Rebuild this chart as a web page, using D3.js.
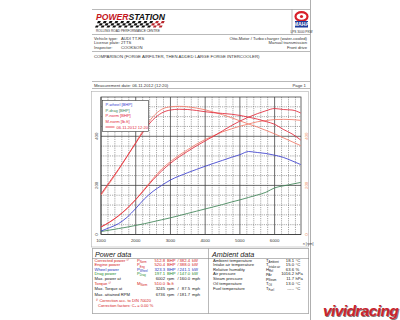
<!DOCTYPE html>
<html>
<head>
<meta charset="utf-8">
<script src="https://cdn.jsdelivr.net/npm/d3@7"></script>
<style>
  html, body { margin: 0; padding: 0; background: #fff; }
  svg { display: block; font-family: "Liberation Sans", Arial, sans-serif; }
</style>
</head>
<body>
<div id="chart"></div>
<script>
// dyno sheet - power / torque comparison

// engine speed samples [rpm]
const rpm = [1000, 1250, 1500, 1750, 2000, 2250, 2500, 2750, 3000, 3250, 3500, 3750,
             4000, 4250, 4500, 4750, 5000, 5250, 5500, 5750, 6000, 6250, 6500, 6750];

// run 06.11.2012 12:20 (red)
const pNormA = [31, 51, 76, 106, 142, 182, 223, 259, 290, 316, 339, 361,
                381, 401, 422, 443, 462, 478, 492, 504, 513, 509, 507, 495];
const mNormA = [165, 215, 265, 318, 372, 425, 468, 495, 507, 510, 509, 505,
                500, 496, 493, 490, 485, 478, 470, 460, 449, 428, 410, 385];
// comparison run (salmon)
const pNormB = [30, 50, 75, 106, 143, 185, 228, 267, 297, 323, 346, 368,
                387, 403, 418, 430, 441, 450, 459, 464, 468, 469, 468, 465];
const mNormB = [160, 210, 262, 318, 375, 432, 480, 510, 520, 522, 520, 515,
                508, 498, 488, 476, 463, 450, 438, 424, 410, 394, 378, 362];
// wheel and drag power of the 12:20 run
const pWheel = [14, 28, 44, 70, 106, 145, 176, 200, 222, 238, 252, 265,
                278, 290, 302, 314, 325, 338, 334, 330, 323, 314, 300, 285];
const pDrag  = [12, 18, 24, 30, 37, 44, 52, 60, 68, 77, 86, 95,
                104, 113, 122, 132, 141, 151, 161, 172, 190, 198, 205, 212];

// axis ticks
const rpmTicks = [1000, 2000, 3000, 4000, 5000, 6000];
const valueTicks = [0, 200, 400];

// legend entries
const legendNames = ['P-wheel [BHP]', 'P-drag [BHP]', 'P-norm [BHP]', 'M-norm [lb.ft]'];
const legendDate = '06.11.2012 12:20';

// header texts
const infoLabels = ['Vehicle type:', 'License plate:', 'Inspector:'];
const infoValues = ['AUDI TT-RS', '2TTS', 'COOKSON'];
const infoRight = ['Otto-Motor / Turbo charger (water-cooled)', 'Manual transmission', 'Front drive'];

// power data table
const powerLabels = ['Corrected power \u00b9\u207e', 'Engine power', 'Wheel power', 'Drag power',
                     'Max. power at', 'Torque \u00b9\u207e', 'Max. Torque at', 'Max. attained RPM'];
const powerSym = [['P', 'Norm'], ['P', 'Eng'], ['P', 'Wheel'], ['P', 'Drag'], null, ['M', 'Norm'], null, null];
const powerVal1 = ['512.8', '520.4', '323.3', '197.1', '6002', '510.0', '3245', '6736'];
const powerUnit1 = ['BHP', 'BHP', 'BHP', 'BHP', 'rpm', 'lb.ft', 'rpm', 'rpm'];
const powerVal2 = ['382.4', '388.0', '241.1', '147.0', '160.0', '', '87.5', '181.7'];
const powerUnit2 = ['kW', 'kW', 'kW', 'kW', 'mph', '', 'mph', 'mph'];
const powerColor = ['#d42020', '#d42020', '#2233bb', '#218a2a', '#222', '#d42020', '#222', '#222'];
const powerRowY = [262, 266.4, 270.8, 275.2, 279.6, 285.2, 290.4, 296];

// ambient data table
const ambLabels = ['Ambient temperature', 'Intake air temperature', 'Relative humidity',
                   'Air pressure', 'Steam pressure', 'Oil temperature', 'Fuel temperature'];
const ambSym = [['T', 'Ambient'], ['T', 'Intake air'], ['H', 'Rel'], ['p', 'Air'], ['p', 'Steam'], ['T', 'Oil'], ['T', 'Fuel']];
const ambVal = ['18.1', '15.0', '63.6', '1016.2', '11.7', '13.0', '---.-'];
const ambUnit = ['\u00b0C', '\u00b0C', '%', 'hPa', 'hPa', '\u00b0C', '\u00b0C'];
const ambRowY = [262, 266.4, 270.8, 275.2, 279.6, 285.2, 289.6];

const width = 400, height = 320;
const red = '#e2283a', salmon = '#f27a68', blue = '#3b3fcf', green = '#3f8456', orange = '#ee8a5a';

const svg = d3.select('#chart').append('svg')
    .attr('width', width)
    .attr('height', height);

svg.append('rect').attr('width', width).attr('height', height).attr('fill', '#fff');

// page edge
svg.append('line').attr('x1', 310.5).attr('x2', 310.5).attr('y1', 0).attr('y2', height)
   .attr('stroke', '#9a9a9a').attr('stroke-width', 0.8);

// ---------- header ----------
const hdr = svg.append('g').attr('stroke', '#8a8a8a').attr('stroke-width', 0.6);
hdr.append('line').attr('x1', 92).attr('x2', 310).attr('y1', 9.5).attr('y2', 9.5);
hdr.append('line').attr('x1', 92).attr('x2', 310).attr('y1', 34.5).attr('y2', 34.5);
hdr.append('line').attr('x1', 292).attr('x2', 292).attr('y1', 9.5).attr('y2', 34.5);
hdr.append('line').attr('x1', 92).attr('x2', 310).attr('y1', 51.5).attr('y2', 51.5);
hdr.append('line').attr('x1', 92).attr('x2', 310).attr('y1', 81.5).attr('y2', 81.5);
hdr.append('line').attr('x1', 92).attr('x2', 310).attr('y1', 88.5).attr('y2', 88.5);

// POWERSTATION logo
const logo = svg.append('text')
    .attr('x', 96).attr('y', 19.5)
    .attr('font-size', 8.6).attr('font-weight', 'bold').attr('font-style', 'italic');
logo.append('tspan').attr('fill', '#c4161c').text('POWER');
logo.append('tspan').attr('fill', '#111').text('STATION');

const flag = svg.append('g').attr('transform', 'translate(98,21) skewX(-25)');
d3.range(3).forEach(r => {
  d3.range(23).forEach(c => {
    if ((r + c) % 2 === 0) {
      flag.append('rect')
        .attr('x', c * 2.9).attr('y', r * 2.2)
        .attr('width', 2.9).attr('height', 2.2)
        .attr('fill', c > 18 ? '#b8262c' : '#111');
    }
  });
});
svg.append('text').attr('x', 96).attr('y', 31.8).attr('font-size', 3.2).attr('fill', '#333')
   .text('ROLLING ROAD PERFORMANCE CENTRE');

// MAHA logo
svg.append('ellipse').attr('cx', 301.5).attr('cy', 16.5).attr('rx', 6).attr('ry', 4.3)
   .attr('fill', '#fff').attr('stroke', '#d8202a').attr('stroke-width', 2.2);
svg.append('circle').attr('cx', 301.5).attr('cy', 16.5).attr('r', 1.6).attr('fill', '#d8202a');
svg.append('rect').attr('x', 295).attr('y', 21).attr('width', 13).attr('height', 6.5).attr('fill', '#1d3c9c');
svg.append('text').attr('x', 301.5).attr('y', 26.2).attr('text-anchor', 'middle')
   .attr('font-size', 5.2).attr('font-weight', 'bold').attr('fill', '#fff').text('MAHA');
svg.append('text').attr('x', 301.5).attr('y', 32.5).attr('text-anchor', 'middle')
   .attr('font-size', 3.2).attr('fill', '#333').text('LPS 3000 PKW');

// vehicle info
infoLabels.forEach((t, i) => {
  const yy = 39.8 + i * 4.4;
  svg.append('text').attr('x', 94).attr('y', yy).attr('font-size', 4.2).attr('fill', '#333').text(t);
  svg.append('text').attr('x', 121).attr('y', yy).attr('font-size', 4.2).attr('fill', '#333').text(infoValues[i]);
  svg.append('text').attr('x', 307).attr('y', yy).attr('text-anchor', 'end')
     .attr('font-size', 4.2).attr('fill', '#333').text(infoRight[i]);
});

svg.append('text').attr('x', 94).attr('y', 58).attr('font-size', 4.3).attr('fill', '#333')
   .text('COMPARISON (FORGE AIRFILTER, THEN ADDED LARGE FORGE INTERCOOLER)');
svg.append('text').attr('x', 94).attr('y', 86.8).attr('font-size', 4.3).attr('fill', '#333')
   .text('Measurement date: 06.11.2012 (12:20)');
svg.append('text').attr('x', 306).attr('y', 86.8).attr('text-anchor', 'end')
   .attr('font-size', 4.3).attr('fill', '#333').text('Page 1');

// ---------- chart ----------
const x = d3.scaleLinear().domain([1000, 6760]).range([101, 301]);
const y = d3.scaleLinear().domain([0, 560]).range([234.5, 97]);

// outer chart frame
svg.append('rect').attr('x', 91.5).attr('y', 91.5).attr('width', 217).attr('height', 155.5)
   .attr('fill', 'none').attr('stroke', '#b0b0b0').attr('stroke-width', 0.6);

const grid = svg.append('g');
// minor grid
grid.selectAll('.vminor')
  .data(d3.range(1200, 6760, 200).filter(v => v % 1000 !== 0))
  .join('line')
    .attr('x1', d => x(d)).attr('x2', d => x(d))
    .attr('y1', y.range()[1]).attr('y2', y.range()[0])
    .attr('stroke', '#505050').attr('stroke-width', 0.5).attr('stroke-dasharray', '1.2,1');
grid.selectAll('.hminor')
  .data(d3.range(40, 560, 40).filter(v => v % 200 !== 0))
  .join('line')
    .attr('x1', x.range()[0]).attr('x2', x.range()[1])
    .attr('y1', d => y(d)).attr('y2', d => y(d))
    .attr('stroke', '#505050').attr('stroke-width', 0.5).attr('stroke-dasharray', '1.2,1');
// major grid
grid.selectAll('.vmajor')
  .data(rpmTicks)
  .join('line')
    .attr('x1', d => x(d)).attr('x2', d => x(d))
    .attr('y1', y.range()[1]).attr('y2', y.range()[0])
    .attr('stroke', '#3a3a3a').attr('stroke-width', 0.75);
grid.selectAll('.hmajor')
  .data(valueTicks)
  .join('line')
    .attr('x1', x.range()[0]).attr('x2', x.range()[1])
    .attr('y1', d => y(d)).attr('y2', d => y(d))
    .attr('stroke', '#3a3a3a').attr('stroke-width', 0.75);
svg.append('rect')
   .attr('x', x.range()[0]).attr('y', y.range()[1])
   .attr('width', x.range()[1] - x.range()[0]).attr('height', y.range()[0] - y.range()[1])
   .attr('fill', 'none').attr('stroke', '#3a3a3a').attr('stroke-width', 0.75);

// x tick labels
svg.selectAll('.xlab')
  .data(rpmTicks)
  .join('text')
    .attr('x', d => x(d)).attr('y', 242)
    .attr('text-anchor', 'middle').attr('font-size', 4.3).attr('fill', '#333')
    .text(d => d);
svg.append('text').attr('x', 303).attr('y', 244.5).attr('font-size', 3.4).attr('fill', '#444').text('n [rpm]');

// left / right value labels (rotated)
svg.selectAll('.ylab')
  .data(valueTicks)
  .join('text')
    .attr('transform', d => `translate(97.5,${y(d)}) rotate(-90)`)
    .attr('text-anchor', 'middle').attr('font-size', 4.3).attr('fill', '#333')
    .text(d => d);
svg.selectAll('.ylab2')
  .data(valueTicks)
  .join('text')
    .attr('transform', d => `translate(307.5,${y(d)}) rotate(-90)`)
    .attr('text-anchor', 'middle').attr('font-size', 4.3).attr('fill', orange)
    .text(d => d);

// curves
const line = vals => d3.line()
    .curve(d3.curveMonotoneX)
    .x((d, i) => x(rpm[i]))
    .y(d => y(d))(vals);

const series = [
  { vals: pDrag,  color: green },
  { vals: pWheel, color: blue },
  { vals: mNormB, color: salmon },
  { vals: pNormB, color: salmon },
  { vals: mNormA, color: red },
  { vals: pNormA, color: red }
];
svg.append('g').selectAll('path')
  .data(series)
  .join('path')
    .attr('d', d => line(d.vals))
    .attr('fill', 'none')
    .attr('stroke', d => d.color)
    .attr('stroke-width', 0.85);

// legend
const lg = svg.append('g').attr('transform', 'translate(102.5,100.5)');
lg.append('rect').attr('width', 46).attr('height', 31)
  .attr('fill', '#fff').attr('stroke', '#333').attr('stroke-width', 0.6);
const legendColors = [blue, green, red, red];
legendNames.forEach((n, i) => {
  lg.append('text').attr('x', 3).attr('y', 5.5 + i * 5.6)
    .attr('font-size', 4.1).attr('fill', legendColors[i]).text(n);
});
lg.append('line').attr('x1', 3).attr('x2', 12).attr('y1', 26.5).attr('y2', 26.5)
  .attr('stroke', red).attr('stroke-width', 0.8);
lg.append('text').attr('x', 14).attr('y', 28).attr('font-size', 4.1).attr('fill', red).text(legendDate);

// ---------- data tables ----------
const tb = svg.append('g').attr('stroke', '#8a8a8a').attr('stroke-width', 0.6);
tb.append('line').attr('x1', 92).attr('x2', 309).attr('y1', 248.5).attr('y2', 248.5);
tb.append('line').attr('x1', 92).attr('x2', 309).attr('y1', 258.5).attr('y2', 258.5);
tb.append('line').attr('x1', 92).attr('x2', 309).attr('y1', 313.5).attr('y2', 313.5);
tb.append('line').attr('x1', 208.5).attr('x2', 208.5).attr('y1', 248.5).attr('y2', 313.5);
tb.append('line').attr('x1', 92.5).attr('x2', 92.5).attr('y1', 248.5).attr('y2', 313.5);
tb.append('line').attr('x1', 308.5).attr('x2', 308.5).attr('y1', 248.5).attr('y2', 313.5);

svg.append('text').attr('x', 95).attr('y', 256.5).attr('font-size', 7.2)
   .attr('font-style', 'italic').attr('fill', '#222').text('Power data');
svg.append('text').attr('x', 212).attr('y', 256.5).attr('font-size', 7.2)
   .attr('font-style', 'italic').attr('fill', '#222').text('Ambient data');

function symbol(g, xx, yy, sym, color) {
  const t = g.append('text').attr('x', xx).attr('y', yy).attr('font-size', 4.2).attr('fill', color);
  t.append('tspan').text(sym[0]);
  t.append('tspan').attr('dy', 1.2).attr('font-size', 2.8).text(sym[1]);
}

const fs = 4.2;
powerLabels.forEach((lab, i) => {
  const yy = powerRowY[i], c = powerColor[i];
  svg.append('text').attr('x', 94.5).attr('y', yy).attr('font-size', fs).attr('fill', c).text(lab);
  if (powerSym[i]) symbol(svg, 137, yy, powerSym[i], c);
  svg.append('text').attr('x', 165).attr('y', yy).attr('text-anchor', 'end')
     .attr('font-size', fs).attr('fill', c).text(powerVal1[i]);
  svg.append('text').attr('x', 167).attr('y', yy).attr('font-size', fs).attr('fill', c).text(powerUnit1[i]);
  if (powerVal2[i]) {
    svg.append('text').attr('x', 177.5).attr('y', yy).attr('font-size', fs).attr('fill', c).text('/');
    svg.append('text').attr('x', 190).attr('y', yy).attr('text-anchor', 'end')
       .attr('font-size', fs).attr('fill', c).text(powerVal2[i]);
    svg.append('text').attr('x', 192).attr('y', yy).attr('font-size', fs).attr('fill', c).text(powerUnit2[i]);
  }
});
svg.append('text').attr('x', 96).attr('y', 302).attr('font-size', 4).attr('fill', '#d42020')
   .text('\u00b9\u207e Correction acc. to DIN 70020');
svg.append('text').attr('x', 98).attr('y', 306.5).attr('font-size', 4).attr('fill', '#d42020')
   .text('Correction factors: C\u2092 =   0.00 %');

ambLabels.forEach((lab, i) => {
  const yy = ambRowY[i];
  svg.append('text').attr('x', 213).attr('y', yy).attr('font-size', fs).attr('fill', '#222').text(lab);
  symbol(svg, 266, yy, ambSym[i], '#222');
  svg.append('text').attr('x', 294).attr('y', yy).attr('text-anchor', 'end')
     .attr('font-size', fs).attr('fill', '#222').text(ambVal[i]);
  svg.append('text').attr('x', 295.5).attr('y', yy).attr('font-size', fs).attr('fill', '#222').text(ambUnit[i]);
});

// watermark
svg.append('text').attr('x', 323).attr('y', 316).attr('font-size', 15.5)
   .attr('font-weight', 'bold').attr('font-style', 'italic').attr('letter-spacing', -0.6)
   .attr('fill', '#3a1a1a').attr('opacity', 0.6).attr('transform', 'translate(0.8,0.8)')
   .text('vividracing');
svg.append('text').attr('x', 323).attr('y', 316).attr('font-size', 15.5)
   .attr('font-weight', 'bold').attr('font-style', 'italic').attr('letter-spacing', -0.6)
   .attr('fill', '#c8242e')
   .text('vividracing');
</script>
</body>
</html>
